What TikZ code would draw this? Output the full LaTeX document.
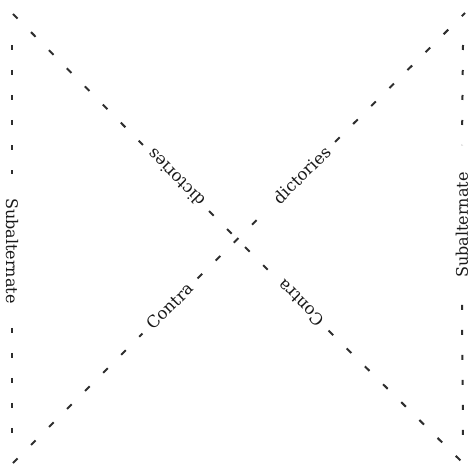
\documentclass[tikz,border=0pt]{standalone}
\usepackage{fontspec}
\setmainfont{DejaVu Serif}
\begin{document}
\begin{tikzpicture}[x=1pt,y=-1pt,
  line/.style={line width=2pt,draw=black!82},
  vdash/.style={line,dash pattern=on 5pt off 20pt},
  ddash/.style={line,dash pattern=on 6.5pt off 19pt},
  vlabel/.style={font=\fontsize{16}{19}\selectfont,inner ysep=2pt,text=black!90},
  dlabel/.style={font=\fontsize{16.5}{19}\selectfont,inner ysep=2pt,text=black!90}]
\useasboundingbox (0,0) rectangle (470,465);
% corners and ends
\coordinate (tl) at (13,14);
\coordinate (br) at (463,463);
\coordinate (bl) at (13,463);
\coordinate (tr) at (465,13);
\coordinate (ltop) at (12,45);
\coordinate (lbot) at (12,437);
\coordinate (rtop) at (463,45);
\coordinate (rbot) at (463,437);
% labels
\node[vlabel,rotate=-90,inner xsep=24pt] (lsub) at (12,251) {Subalternate};
\node[vlabel,rotate=90,inner xsep=27pt] (rsub) at (462,225) {Subalternate};
\node[dlabel,rotate=135,inner xsep=10pt] (dict1) at (176,178) {dictories};
\node[dlabel,rotate=135,inner xsep=10pt] (contra2) at (301,303) {Contra};
\node[dlabel,rotate=45,inner xsep=10pt] (contra1) at (170,306) {Contra};
\node[dlabel,rotate=45,inner xsep=10pt] (dict2) at (302,175) {dictories};
% verticals
\draw[vdash] (ltop) -- (lsub.west);
\draw[vdash] (lsub.east) -- (lbot);
\draw[vdash] (rtop) -- (rsub.east);
\draw[vdash] (rsub.west) -- (rbot);
% diagonals
\draw[ddash] (tl) -- (dict1.east);
\draw[ddash] (dict1.west) -- (contra2.east);
\draw[ddash] (contra2.west) -- (br);
\draw[ddash] (bl) -- (contra1.west);
\draw[ddash] (contra1.east) -- (dict2.west);
\draw[ddash] (dict2.east) -- (tr);
\end{tikzpicture}
\end{document}
